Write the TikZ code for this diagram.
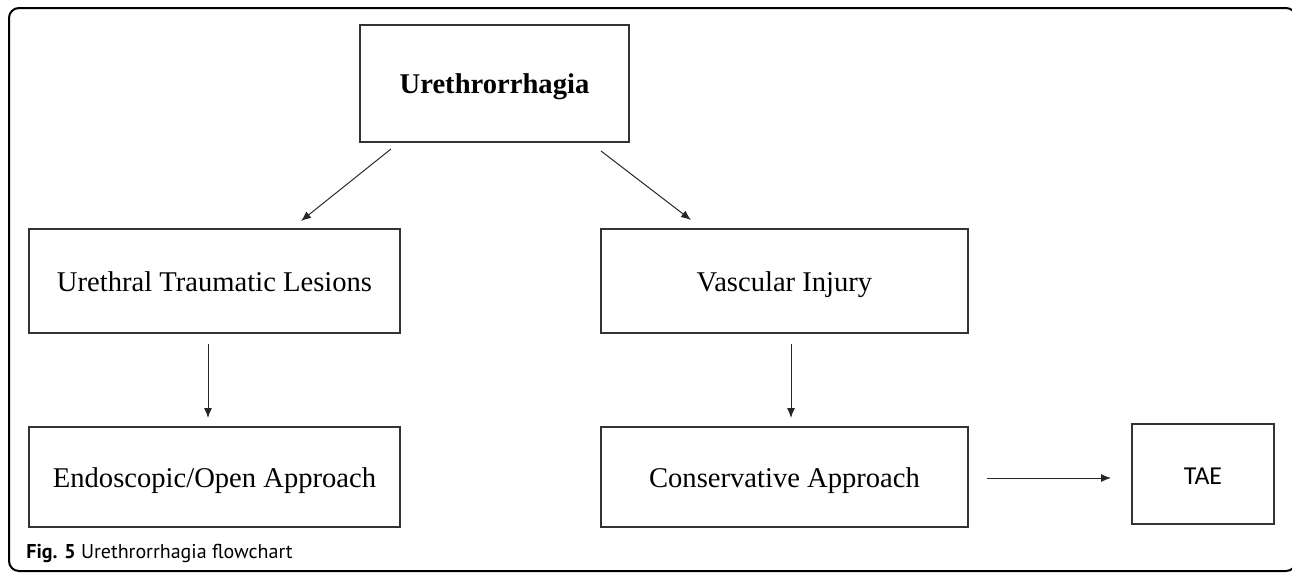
\documentclass[tikz,border=0pt]{standalone}
\usepackage{fontspec}
\setmainfont{Liberation Serif}
\newfontfamily\capfont{PT Sans}
\newfontfamily\taefont{Carlito}
\usetikzlibrary{arrows.meta}

\begin{document}
\begin{tikzpicture}[x=0.5pt,y=-0.5pt, rnode/.style={draw=black!80,line width=1pt,rectangle,inner sep=0pt,text height=12pt,text depth=2pt,font=\fontsize{14.3}{17}\selectfont}, arr/.style={-{Latex[length=5pt,width=4pt]},line width=0.5pt,black!85}]
    \useasboundingbox (0,0) rectangle (1292,574);
    \draw[line width=1pt,rounded corners=5pt] (9,8) rectangle (1296,571);

    \node[rnode,minimum width=134.5pt,minimum height=58.5pt] (0) at (494.5,83.5) {\textbf{Urethrorrhagia}};
    \node[rnode,minimum width=185.5pt,minimum height=52pt] (1) at (214.5,281) {Urethral Traumatic Lesions};
    \node[rnode,minimum width=183.5pt,minimum height=52pt] (2) at (784.5,281) {Vascular Injury};
    \node[rnode,minimum width=185.5pt,minimum height=50pt] (3) at (214.5,477) {Endoscopic/Open Approach};
    \node[rnode,minimum width=183.5pt,minimum height=50pt] (4) at (784.5,477) {Conservative Approach};
    \node[rnode,minimum width=71pt,minimum height=50pt,font=\taefont\fontsize{12.9}{15}\selectfont] (5) at (1203,474) {TAE};

    \draw[arr] ([shift={(-103.5,6)}]0.south) -- ([shift={(86.5,-7)}]1.north);
    \draw[arr] ([shift={(106.5,8)}]0.south) -- ([shift={(-93.5,-8)}]2.north);
    \draw[arr] ([shift={(-6.5,10)}]1.south) -- ([shift={(-6.5,-8)}]3.north);
    \draw[arr] ([shift={(6.5,10)}]2.south) -- ([shift={(6.5,-8)}]4.north);
    \draw[arr] ([shift={(18,1)}]4.east) -- ([shift={(-20,4)}]5.west);

    \node[anchor=base west,inner sep=0pt,font=\capfont\fontsize{10}{12}\selectfont] (6) at (26,558) {\textbf{Fig. 5} Urethrorrhagia flowchart};
\end{tikzpicture}
\end{document}
